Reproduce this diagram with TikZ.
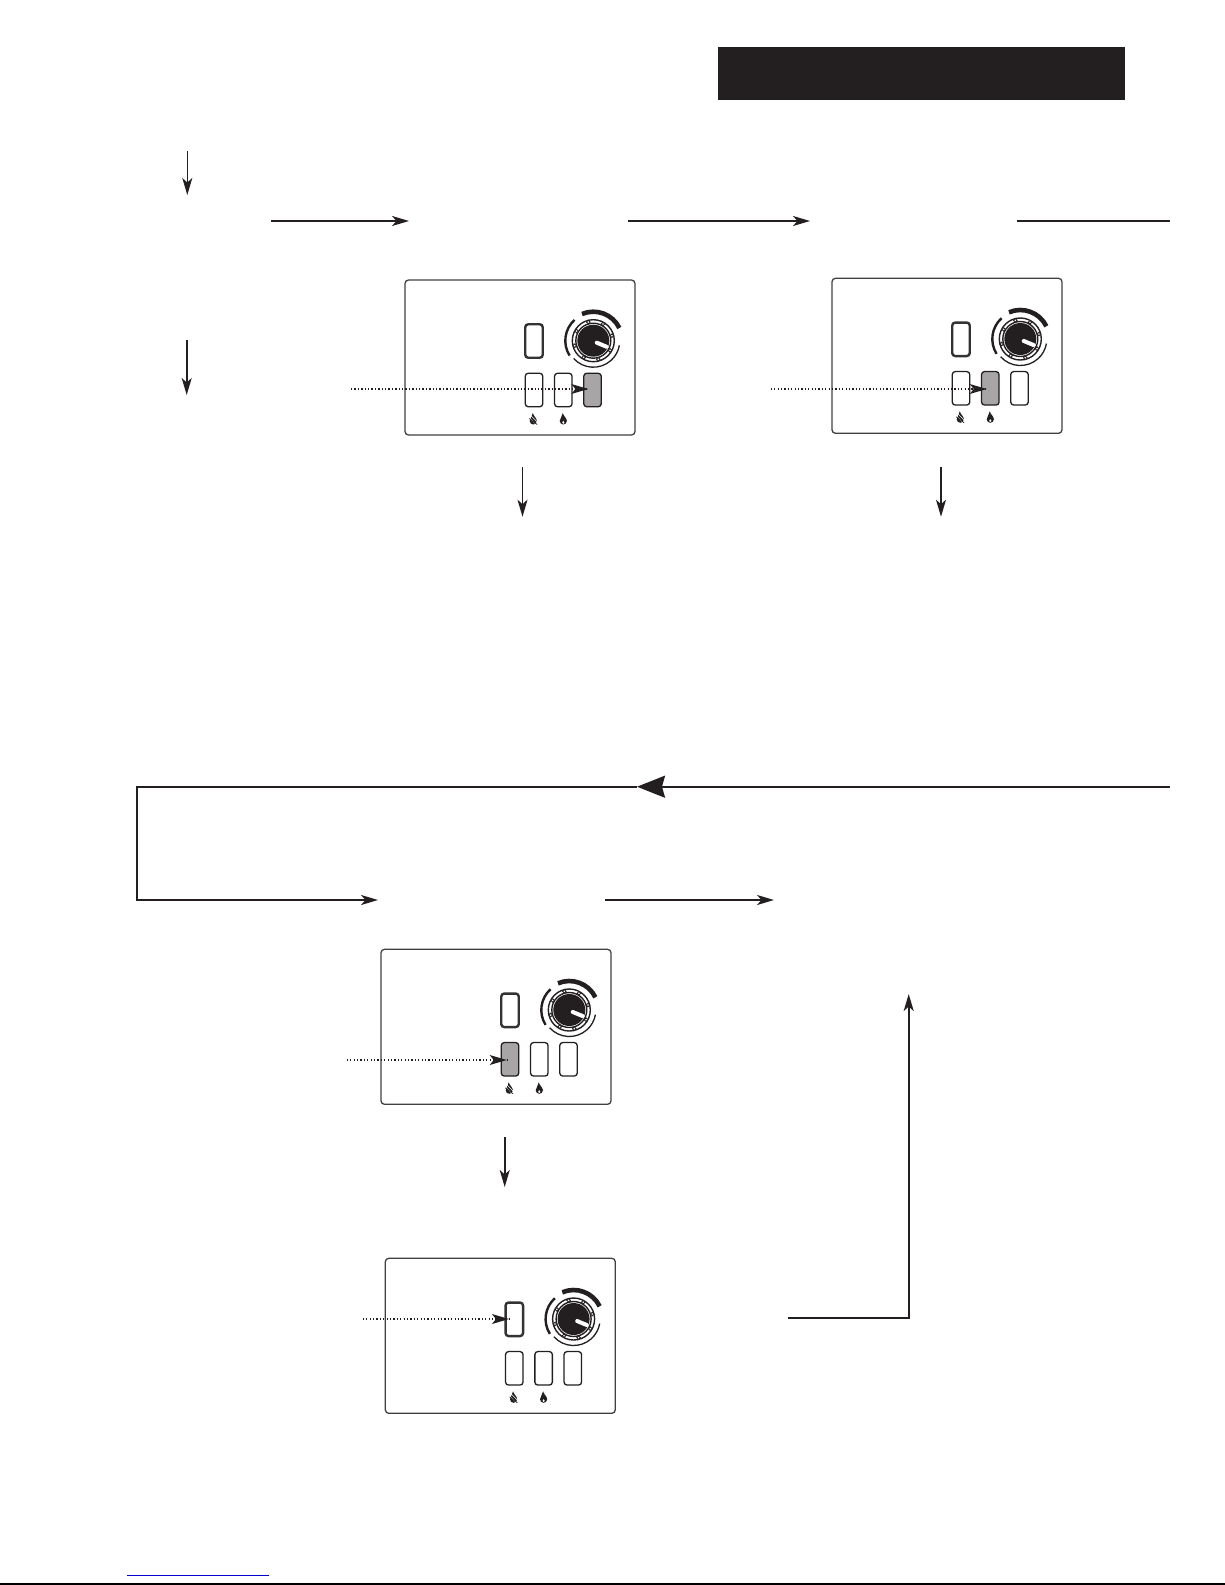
\documentclass[tikz,border=0pt]{standalone}
\usetikzlibrary{arrows.meta}
\definecolor{inkblack}{HTML}{231F20}
\definecolor{btngray}{HTML}{A7A5A6}
\tikzset{
  mainline/.style={draw=inkblack, line width=2.1pt},
  thinline/.style={draw=inkblack, line width=1.2pt},
  tiparrow/.style={-{Stealth[length=17pt, width=10pt, inset=4.5pt]}},
  bigarrow/.style={-{Stealth[length=28pt, width=22pt, inset=3pt]}},
  dotline/.style={draw=inkblack, line width=1.3pt, dash pattern=on 1.3pt off 2.1pt},
  btn/.style={draw=inkblack, rectangle, rounded corners=3pt, line width=1.3pt, inner sep=0pt, minimum width=17.5pt, minimum height=33.5pt},
  panelbox/.style={draw=black!75, rectangle, rounded corners=3.5pt, line width=1.3pt, inner sep=0pt, minimum width=230pt, minimum height=155pt}
}
% name, left, top, fills of the three lower buttons
\newcommand{\ctrlpanel}[6]{
  \begin{scope}[shift={(#2,#3)}]
    \node[panelbox] (#1) at (115,77.5) {};
    \node[btn, draw=black!80, line width=2.4pt] (#1top) at (129,61) {};
    \node[btn, fill=#4] (#1a) at (129,110) {};
    \node[btn, fill=#5] (#1b) at (158.3,110) {};
    \node[btn, fill=#6] (#1c) at (187.5,110) {};
    % dial
    \node[circle, fill=inkblack, inner sep=0pt, minimum size=32pt] (#1dial) at (188.3,60.7) {};
    \draw[inkblack, line width=1.4pt] (#1dial) circle (17.5pt) (#1dial) circle (21pt);
    \foreach \ang in {15,60,...,330}
      \draw[inkblack, fill=white, line width=0.9pt] (#1dial) ++(\ang:19.3pt) circle (1.8pt);
    \draw[inkblack, line width=4.6pt] (#1dial) ++(113:29pt) arc[start angle=113, end angle=26, radius=29pt];
    \draw[inkblack, line width=2.4pt] (#1dial) ++(132:28pt) arc[start angle=132, end angle=212, radius=28pt];
    \draw[inkblack, line width=1.3pt] (#1dial) ++(222:26.5pt) arc[start angle=222, end angle=350, radius=26.5pt];
    \draw[white, line width=4pt, line cap=round] (191.8,62.7) -- (201.5,66.7);
    % flames
    \begin{scope}[shift={(128.3,139)}]
      \fill[inkblack] (-0.5,-6) .. controls (0,-3) and (3.6,-1) .. (3.6,2) .. controls (3.6,4) and (1.8,5.5) .. (0,5.5) .. controls (-1.8,5.5) and (-3.6,4) .. (-3.6,2) .. controls (-3.6,0) and (-1.2,-2.5) .. (-0.5,-6);
      \draw[white, line width=0.6pt] (-4,-1.5) -- (3,5.5) (-2.5,-3.5) -- (4.5,3.5);
      \draw[inkblack, line width=0.7pt] (-4,-0.5) -- (3.8,5.5);
    \end{scope}
    \begin{scope}[shift={(158.3,139)}]
      \fill[inkblack] (-0.5,-6) .. controls (0,-3) and (3.6,-1) .. (3.6,2) .. controls (3.6,4) and (1.8,5.5) .. (0,5.5) .. controls (-1.8,5.5) and (-3.6,4) .. (-3.6,2) .. controls (-3.6,0) and (-1.2,-2.5) .. (-0.5,-6);
      \fill[white] (0,3.4) ellipse (1.1pt and 1.5pt);
    \end{scope}
  \end{scope}
}
\begin{document}
\begin{tikzpicture}[x=1pt, y=-1pt]
  \useasboundingbox (0,0) rectangle (1225,1585);
  \node[fill=inkblack, inner sep=0pt, minimum width=407pt, minimum height=53pt] (header) at (921.5,73.5) {};

  % upper row
  \coordinate (a1s) at (187.3,151);
  \coordinate (a1e) at (187.3,195);
  \coordinate (a2s) at (186.7,340);
  \coordinate (a2e) at (186.7,395);
  \coordinate (t1s) at (271,221);
  \coordinate (t1e) at (409,221);
  \coordinate (t2s) at (628,221);
  \coordinate (t2e) at (810,221);
  \coordinate (t3s) at (1017,221);
  \coordinate (t3e) at (1170,221);
  \draw[thinline, tiparrow] (a1s) -- (a1e);
  \draw[mainline, line width=1.7pt, tiparrow] (a2s) -- (a2e);
  \draw[mainline, tiparrow] (t1s) -- (t1e);
  \draw[mainline, tiparrow] (t2s) -- (t2e);
  \draw[mainline] (t3s) -- (t3e);

  \ctrlpanel{pa}{405}{280}{white}{white}{btngray}
  \ctrlpanel{pb}{832}{278.3}{white}{btngray}{white}
  \ctrlpanel{pc}{381}{949.3}{btngray}{white}{white}
  \ctrlpanel{pd}{385.3}{1258.3}{white}{white}{white}

  % dotted pointers
  \coordinate (pas) at (351,389);
  \coordinate (pae) at (588.3,389);
  \coordinate (pbs) at (770.7,389);
  \coordinate (pbe) at (986.7,389);
  \coordinate (pcs) at (346.7,1060);
  \coordinate (pce) at (506.7,1060);
  \coordinate (pds) at (362.7,1319);
  \coordinate (pde) at (509,1319);
  \foreach \p in {pa,pb,pc,pd} {
    \draw[dotline] (\p s) -- (\p e);
    \fill[inkblack] (\p e) -- ++(-17,-5) -- ++(4,5) -- ++(-4,5) -- cycle;
  }

  % down arrows
  \coordinate (d1s) at (522.5,467);
  \coordinate (d1e) at (522.5,516.7);
  \coordinate (d2s) at (941,467);
  \coordinate (d2e) at (941,516.7);
  \coordinate (d3s) at (504.7,1137);
  \coordinate (d3e) at (504.7,1187);
  \draw[mainline, line width=1.7pt, tiparrow] (d1s) -- (d1e);
  \draw[mainline, line width=1.7pt, tiparrow] (d2s) -- (d2e);
  \draw[mainline, line width=1.7pt, tiparrow] (d3s) -- (d3e);

  % return loop
  \coordinate (lr) at (1169.6,786.7);
  \coordinate (lm) at (637,786.7);
  \coordinate (ltl) at (137,786.7);
  \coordinate (lbl) at (137,900);
  \coordinate (lb1) at (378,900);
  \coordinate (b2s) at (605,900);
  \coordinate (b2e) at (774,900);
  \draw[mainline, bigarrow] (lr) -- (lm);
  \draw[mainline, tiparrow] (lm) -- (ltl) -- (lbl) -- (lb1);
  \draw[mainline, tiparrow] (b2s) -- (b2e);

  % right riser
  \coordinate (r1) at (788,1318);
  \coordinate (r2) at (908.7,1318);
  \coordinate (r3) at (908.7,994);
  \draw[mainline, tiparrow] (r1) -- (r2) -- (r3);

  % footer
  \coordinate (f1) at (127,1575.3);
  \coordinate (f2) at (268.7,1575.3);
  \coordinate (f3) at (0,1584);
  \coordinate (f4) at (1225,1584);
  \draw[draw={rgb,255:red,0;green,0;blue,204}, line width=1pt] (f1) -- (f2);
  \draw[black, line width=1.5pt] (f3) -- (f4);
\end{tikzpicture}
\end{document}
